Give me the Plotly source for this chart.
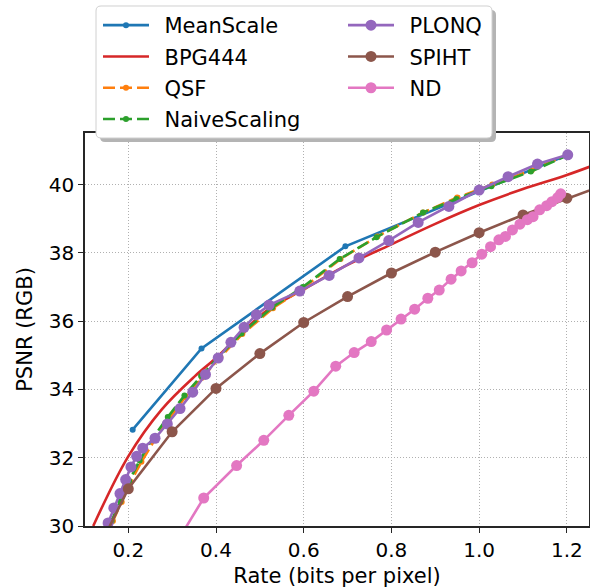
import plotly.graph_objects as go

# ---------------- data ----------------
meanscale_x = [0.210, 0.367, 0.695, 1.200]
meanscale_y = [32.82, 35.20, 38.19, 40.86]

bpg_x = [0.120, 0.200, 0.276, 0.352, 0.400, 0.466, 0.519, 0.600, 0.694, 0.800, 0.900, 1.000, 1.100, 1.200, 1.260]
bpg_y = [30.00, 32.04, 33.41, 34.39, 34.92, 35.75, 36.34, 36.93, 37.61, 38.25, 38.85, 39.40, 39.87, 40.28, 40.56]

qsf_x = [0.165, 0.185, 0.205, 0.230, 0.260, 0.292, 0.330, 0.368, 0.410, 0.460, 0.530, 0.600, 0.684, 0.768, 0.872, 0.950, 1.030, 1.120, 1.200]
qsf_y = [30.15, 30.70, 31.28, 31.88, 32.52, 33.12, 33.78, 34.34, 34.95, 35.62, 36.38, 36.98, 37.82, 38.48, 39.18, 39.62, 40.00, 40.42, 40.87]

naive_x = [0.162, 0.182, 0.202, 0.226, 0.256, 0.290, 0.328, 0.366, 0.408, 0.458, 0.528, 0.598, 0.682, 0.766, 0.872, 0.948, 1.028, 1.118, 1.200]
naive_y = [30.15, 30.72, 31.32, 31.92, 32.58, 33.19, 33.82, 34.39, 34.98, 35.64, 36.40, 37.00, 37.82, 38.46, 39.18, 39.58, 39.95, 40.38, 40.85]

plonq_x = [0.154, 0.167, 0.181, 0.194, 0.206, 0.219, 0.233, 0.261, 0.289, 0.318, 0.347, 0.376, 0.405, 0.434,
           0.464, 0.492, 0.521, 0.591, 0.658, 0.726, 0.794, 0.861, 0.931, 1.000, 1.066, 1.133, 1.202]
plonq_y = [30.09, 30.53, 30.95, 31.36, 31.73, 32.04, 32.28, 32.57, 32.99, 33.44, 33.92, 34.44, 34.92, 35.38,
           35.82, 36.19, 36.47, 36.88, 37.34, 37.85, 38.36, 38.89, 39.36, 39.84, 40.23, 40.60, 40.87]

spiht_x = [0.100, 0.200, 0.300, 0.400, 0.500, 0.600, 0.700, 0.800, 0.900, 1.000, 1.100, 1.200, 1.300]
spiht_y = [28.50, 31.09, 32.76, 34.03, 35.05, 35.96, 36.72, 37.41, 38.02, 38.59, 39.11, 39.60, 40.06]

nd_x = [0.300, 0.372, 0.447, 0.509, 0.566, 0.623, 0.673, 0.715, 0.754, 0.789, 0.822, 0.853, 0.883, 0.909,
        0.936, 0.959, 0.984, 1.006, 1.026, 1.045, 1.060, 1.076, 1.093, 1.110, 1.123, 1.138, 1.154, 1.166, 1.179, 1.186]
nd_y = [29.30, 30.82, 31.77, 32.51, 33.24, 33.95, 34.68, 35.08, 35.40, 35.74, 36.06, 36.35, 36.67, 36.91,
        37.23, 37.47, 37.71, 37.96, 38.18, 38.38, 38.48, 38.67, 38.84, 38.97, 39.06, 39.26, 39.38, 39.50, 39.62, 39.73]

x_ticks = [0.2, 0.4, 0.6, 0.8, 1.0, 1.2]
x_tick_labels = ["0.2", "0.4", "0.6", "0.8", "1.0", "1.2"]
y_ticks = [30, 32, 34, 36, 38, 40]
y_tick_labels = ["30", "32", "34", "36", "38", "40"]

# ---------------- styling ----------------
W, H = 590, 588
ML, MR, MT, MB = 85, 1, 133, 62
PW, PH = W - ML - MR, H - MT - MB
FONT = "DejaVu Sans"
LW = 2.6
PAD = "\u2002"  # small visual gap between legend symbol and label

fig = go.Figure()

def add(name, xs, ys, color, msize, dash="solid", legend="legend", mode="lines+markers", shape="linear"):
    fig.add_trace(go.Scatter(
        x=xs, y=ys, name=PAD + name, mode=mode, legend=legend, legendgroup=name,
        line=dict(color=color, width=LW, dash=dash, shape=shape, smoothing=1.0),
        marker=dict(color=color, size=msize, line=dict(width=0)),
        hovertemplate=name + ": (%{x}, %{y})<extra></extra>",
    ))

add("MeanScale", meanscale_x, meanscale_y, "#1f77b4", 6)
add("BPG444", bpg_x, bpg_y, "#d62728", 0, mode="lines", shape="spline")
add("QSF", qsf_x, qsf_y, "#ff7f0e", 6, dash="12px,5px")
add("NaiveScaling", naive_x, naive_y, "#2ca02c", 6, dash="12px,5px")
add("PLONQ", plonq_x, plonq_y, "#9467bd", 11, legend="legend2")
add("SPIHT", spiht_x, spiht_y, "#8c564b", 11, legend="legend2")
add("ND", nd_x, nd_y, "#e377c2", 11, legend="legend2")

def px2paper(px, py):
    return (px - ML) / PW, (H - MB - py) / PH

def rrect(x0, y0, x1, y1, r):
    def P(px, py):
        a, b = px2paper(px, py)
        return f"{a:.5f},{b:.5f}"
    return (f"M{P(x0 + r, y0)} L{P(x1 - r, y0)} Q{P(x1, y0)} {P(x1, y0 + r)} "
            f"L{P(x1, y1 - r)} Q{P(x1, y1)} {P(x1 - r, y1)} L{P(x0 + r, y1)} "
            f"Q{P(x0, y1)} {P(x0, y1 - r)} L{P(x0, y0 + r)} Q{P(x0, y0)} {P(x0 + r, y0)} Z")

LX0, LY0, LX1, LY1 = 96, 6, 492, 138
shapes = [
    dict(type="path", path=rrect(LX0 + 4, LY0 + 4, LX1 + 4, LY1 + 4, 5), xref="paper", yref="paper",
         fillcolor="#b4b4b4", line=dict(width=0), layer="above"),
    dict(type="path", path=rrect(LX0, LY0, LX1, LY1, 5), xref="paper", yref="paper",
         fillcolor="white", line=dict(color="#d0d0d0", width=1), layer="above"),
]

lx1, ly = px2paper(98, 5)
lx2, _ = px2paper(343, 5)
legend_common = dict(
    bgcolor="rgba(0,0,0,0)", borderwidth=0, font=dict(family=FONT, size=21, color="black"),
    orientation="v", yanchor="top", xanchor="left", itemwidth=46, tracegroupgap=1,
    traceorder="grouped", itemclick=False, itemdoubleclick=False,
)

axis_common = dict(
    showline=True, mirror=True, linecolor="#262626", linewidth=1.5,
    ticks="outside", ticklen=5, tickwidth=1.2, tickcolor="#262626",
    showgrid=True, gridcolor="#b0b0b0", gridwidth=1, griddash="1px,2px",
    zeroline=False, tickfont=dict(family=FONT, size=20, color="black"),
    automargin=False,
)

fig.update_layout(
    width=W, height=H, margin=dict(l=ML, r=MR, t=MT, b=MB),
    paper_bgcolor="white", plot_bgcolor="white",
    font=dict(family=FONT, color="black"),
    showlegend=True,
    legend=dict(x=lx1, y=ly, **legend_common),
    legend2=dict(x=lx2, y=ly, **legend_common),
    shapes=shapes,
    xaxis=dict(range=[0.1013, 1.2505], tickvals=x_ticks, ticktext=x_tick_labels,
               title=dict(text="Rate (bits per pixel)", font=dict(family=FONT, size=21, color="black"), standoff=8),
               **axis_common),
    yaxis=dict(range=[30, 41.51], tickvals=y_ticks, ticktext=y_tick_labels,
               title=dict(text="PSNR (RGB)", font=dict(family=FONT, size=21, color="black"), standoff=10),
               **axis_common),
)

fig.write_html("out.html", config={"displayModeBar": False},
               post_script="document.body.style.margin='0px';document.body.style.overflow='hidden';")
